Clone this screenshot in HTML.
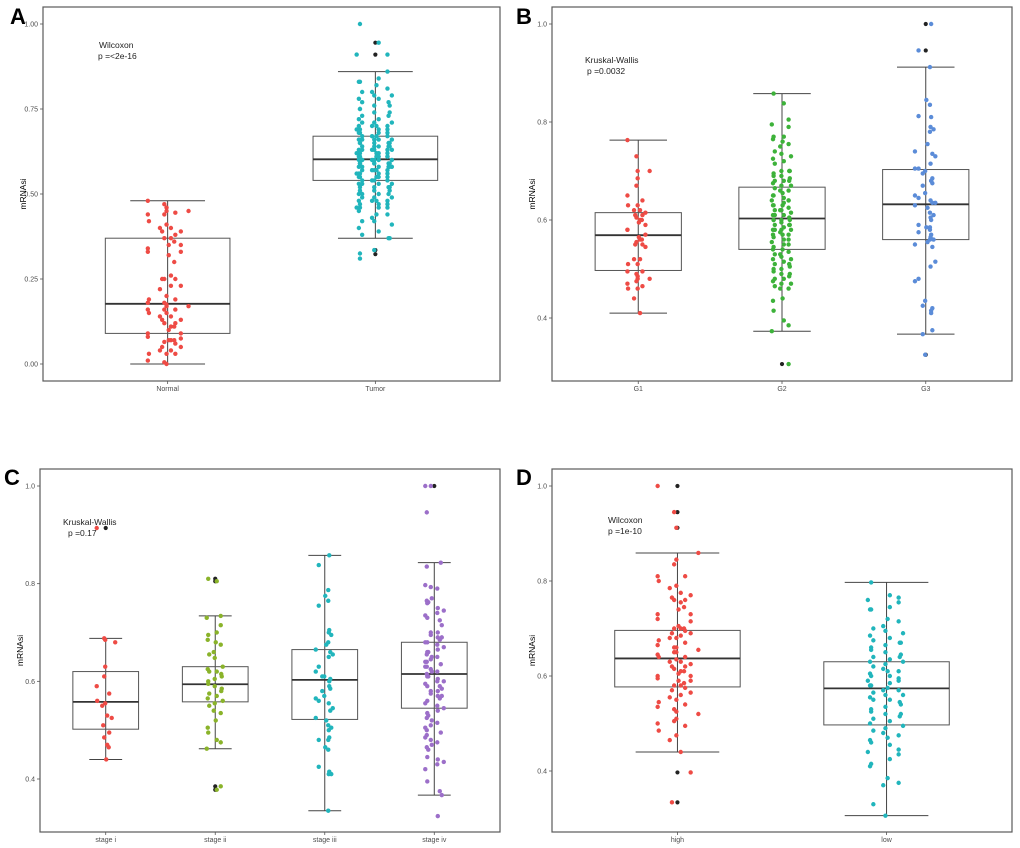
<!DOCTYPE html>
<html><head><meta charset="utf-8"><style>
html,body{margin:0;padding:0;background:#fff;}
svg{display:block;font-family:"Liberation Sans",sans-serif;}
</style></head><body>
<svg id="fig" width="1020" height="848" viewBox="0 0 1020 848"></svg>
<script>
// ---------- DATA ----------
const catsA = ["Normal","Tumor"];
const catsB = ["G1","G2","G3"];
const catsC = ["stage i","stage ii","stage iii","stage iv"];
const catsD = ["high","low"];
const ticksA = [0,0.25,0.5,0.75,1.0];
const tickLabelsA = ["0.00","0.25","0.50","0.75","1.00"];
const ticksB = [0.4,0.6,0.8,1.0];
const tickLabelsB = ["0.4","0.6","0.8","1.0"];
// stats: [lower whisker, q1, median, q3, upper whisker]
const statsA = [[0,0.09,0.177,0.37,0.48],[0.37,0.54,0.602,0.67,0.86]];
const statsB = [[0.41,0.497,0.569,0.615,0.763],[0.373,0.54,0.603,0.667,0.858],[0.367,0.56,0.632,0.703,0.912]];
const statsC = [[0.44,0.502,0.558,0.62,0.688],[0.462,0.558,0.594,0.63,0.734],[0.335,0.522,0.603,0.665,0.858],[0.367,0.545,0.615,0.68,0.843]];
const statsD = [[0.44,0.577,0.637,0.696,0.859],[0.306,0.497,0.574,0.63,0.797]];
const outA = [[],[0.945,0.91,0.335,0.323]];
const outB = [[],[0.306],[1.0,0.946,0.325]];
const outC = [[0.914],[0.81,0.805,0.385,0.378],[],[1.0]];
const outD = [[1.0,0.945,0.912,0.397,0.334],[]];
const jitterPattern = [-0.9,0.3,-0.4,0.8,0.1,-0.7,0.6,-0.2,0.95,-0.55,0.45,-0.05,0.7,-0.85,0.2,-0.35,0.55,-0.65,0.05,0.85,-0.15,0.35,-0.95,0.65,-0.45,0.15,-0.75,0.9,-0.25,0.5,-0.6,0.4,-0.1,0.75,-0.3];
const valsNormal = [0.48,0.47,0.46,0.45,0.45,0.44,0.44,0.445,0.42,0.41,0.40,0.40,0.39,0.39,0.38,0.37,0.37,0.36,0.35,0.35,0.34,0.33,0.33,0.32,0.30,0.26,0.25,0.25,0.25,0.23,0.23,0.22,0.20,0.19,0.19,0.18,0.18,0.175,0.17,0.17,0.16,0.16,0.16,0.15,0.15,0.14,0.14,0.13,0.13,0.12,0.12,0.11,0.11,0.10,0.09,0.09,0.08,0.075,0.07,0.07,0.07,0.065,0.06,0.05,0.05,0.04,0.04,0.03,0.03,0.03,0.01,0.005,0.0];
const valsTumor = [1.0,0.945,0.91,0.91,0.86,0.84,0.83,0.83,0.82,0.81,0.80,0.80,0.79,0.79,0.78,0.78,0.77,0.77,0.76,0.76,0.75,0.75,0.74,0.74,0.73,0.73,0.72,0.72,0.71,0.71,0.71,0.70,0.70,0.70,0.70,0.69,0.69,0.69,0.69,0.68,0.68,0.68,0.68,0.67,0.67,0.67,0.67,0.66,0.66,0.66,0.66,0.66,0.65,0.65,0.65,0.65,0.65,0.64,0.64,0.64,0.64,0.64,0.63,0.63,0.63,0.63,0.63,0.63,0.62,0.62,0.62,0.62,0.62,0.62,0.61,0.61,0.61,0.61,0.61,0.61,0.60,0.60,0.60,0.60,0.60,0.60,0.60,0.59,0.59,0.59,0.59,0.59,0.59,0.58,0.58,0.58,0.58,0.58,0.58,0.57,0.57,0.57,0.57,0.57,0.56,0.56,0.56,0.56,0.56,0.55,0.55,0.55,0.55,0.55,0.54,0.54,0.54,0.54,0.53,0.53,0.53,0.53,0.52,0.52,0.52,0.52,0.51,0.51,0.51,0.50,0.50,0.50,0.50,0.49,0.49,0.49,0.48,0.48,0.48,0.48,0.47,0.47,0.47,0.46,0.46,0.46,0.46,0.45,0.44,0.44,0.43,0.42,0.42,0.41,0.40,0.39,0.38,0.37,0.37,0.335,0.325,0.31];
const valsG1 = [0.763,0.73,0.70,0.70,0.685,0.67,0.65,0.64,0.63,0.63,0.62,0.62,0.615,0.61,0.61,0.605,0.60,0.60,0.595,0.59,0.58,0.58,0.57,0.565,0.56,0.56,0.555,0.55,0.55,0.545,0.52,0.52,0.51,0.51,0.495,0.495,0.49,0.485,0.48,0.48,0.475,0.47,0.465,0.46,0.46,0.44,0.41];
const valsG2 = [0.858,0.838,0.805,0.795,0.79,0.77,0.77,0.765,0.76,0.755,0.75,0.74,0.735,0.73,0.725,0.72,0.715,0.70,0.70,0.70,0.695,0.69,0.69,0.685,0.68,0.68,0.68,0.675,0.67,0.67,0.665,0.66,0.66,0.655,0.65,0.65,0.645,0.64,0.64,0.64,0.635,0.63,0.63,0.63,0.625,0.62,0.62,0.62,0.615,0.61,0.61,0.61,0.605,0.60,0.60,0.60,0.60,0.595,0.59,0.59,0.59,0.585,0.58,0.58,0.58,0.58,0.575,0.57,0.57,0.57,0.565,0.56,0.56,0.555,0.55,0.55,0.545,0.54,0.54,0.535,0.53,0.53,0.525,0.52,0.52,0.515,0.51,0.51,0.505,0.50,0.50,0.495,0.49,0.49,0.485,0.48,0.48,0.475,0.47,0.47,0.465,0.46,0.46,0.44,0.435,0.415,0.395,0.385,0.373,0.306];
const valsG3 = [1.0,0.946,0.912,0.845,0.835,0.812,0.81,0.79,0.785,0.78,0.755,0.74,0.735,0.73,0.715,0.705,0.705,0.70,0.695,0.685,0.68,0.68,0.675,0.67,0.655,0.65,0.645,0.64,0.635,0.635,0.63,0.625,0.615,0.61,0.605,0.60,0.59,0.585,0.585,0.58,0.575,0.57,0.565,0.56,0.56,0.555,0.55,0.545,0.515,0.505,0.48,0.475,0.435,0.425,0.42,0.415,0.41,0.375,0.367,0.325];
const valsSi = [0.914,0.688,0.685,0.68,0.63,0.61,0.59,0.575,0.56,0.555,0.55,0.53,0.525,0.51,0.495,0.485,0.47,0.465,0.44];
const valsSii = [0.81,0.805,0.734,0.73,0.715,0.70,0.695,0.685,0.68,0.675,0.66,0.655,0.648,0.63,0.625,0.62,0.62,0.615,0.61,0.605,0.60,0.595,0.59,0.585,0.58,0.575,0.57,0.565,0.56,0.555,0.55,0.54,0.535,0.52,0.505,0.495,0.48,0.475,0.462,0.385,0.378];
const valsSiii = [0.858,0.838,0.787,0.775,0.765,0.755,0.705,0.70,0.695,0.68,0.675,0.665,0.66,0.655,0.65,0.63,0.62,0.61,0.61,0.605,0.60,0.59,0.585,0.58,0.57,0.565,0.56,0.555,0.545,0.54,0.525,0.52,0.51,0.505,0.50,0.485,0.48,0.48,0.465,0.46,0.425,0.415,0.41,0.41,0.335];
const valsSiv = [1.0,1.0,0.946,0.843,0.835,0.797,0.793,0.79,0.77,0.765,0.762,0.76,0.75,0.745,0.74,0.735,0.73,0.725,0.715,0.70,0.70,0.695,0.69,0.69,0.685,0.68,0.68,0.675,0.67,0.665,0.66,0.66,0.655,0.65,0.65,0.645,0.64,0.64,0.635,0.63,0.63,0.625,0.62,0.62,0.615,0.61,0.61,0.605,0.60,0.60,0.595,0.59,0.59,0.585,0.58,0.58,0.575,0.57,0.57,0.565,0.56,0.555,0.55,0.545,0.54,0.535,0.53,0.525,0.52,0.515,0.51,0.505,0.50,0.495,0.49,0.485,0.48,0.475,0.47,0.465,0.46,0.445,0.44,0.435,0.43,0.42,0.395,0.375,0.367,0.324];
const valsHigh = [1.0,0.945,0.912,0.859,0.845,0.835,0.81,0.81,0.80,0.79,0.785,0.775,0.77,0.765,0.76,0.76,0.755,0.745,0.74,0.73,0.73,0.72,0.715,0.705,0.70,0.70,0.70,0.695,0.69,0.69,0.685,0.68,0.68,0.675,0.67,0.665,0.66,0.66,0.655,0.65,0.65,0.645,0.64,0.64,0.635,0.63,0.63,0.625,0.62,0.62,0.615,0.61,0.61,0.605,0.60,0.60,0.595,0.59,0.59,0.585,0.58,0.58,0.575,0.57,0.565,0.56,0.555,0.55,0.545,0.54,0.535,0.53,0.525,0.52,0.51,0.505,0.50,0.495,0.485,0.475,0.465,0.44,0.397,0.334];
const valsLow = [0.797,0.77,0.765,0.76,0.755,0.745,0.74,0.74,0.72,0.715,0.705,0.70,0.695,0.69,0.685,0.68,0.675,0.67,0.67,0.665,0.66,0.655,0.65,0.645,0.64,0.64,0.635,0.63,0.63,0.625,0.62,0.615,0.61,0.61,0.605,0.60,0.60,0.595,0.59,0.59,0.585,0.58,0.58,0.575,0.57,0.57,0.565,0.56,0.56,0.555,0.55,0.55,0.545,0.54,0.535,0.53,0.525,0.52,0.52,0.515,0.51,0.505,0.50,0.495,0.49,0.485,0.48,0.475,0.47,0.465,0.46,0.455,0.445,0.44,0.435,0.425,0.415,0.41,0.385,0.375,0.37,0.33,0.306];

const NS = "http://www.w3.org/2000/svg";
const svg = document.getElementById('fig');
function mk(tag, attrs, parent){ const e=document.createElementNS(NS,tag); for(const k in attrs) e.setAttribute(k,attrs[k]); parent.appendChild(e); return e; }

function panel(cfg){
  const g = mk('g',{},svg);
  
  
  const L=cfg.left,R=cfg.right,T=cfg.top,B=cfg.bottom;
  const y = v => cfg.y1 + (cfg.v1 - v)*(cfg.y0-cfg.y1)/(cfg.v1-cfg.v0);
  const n = cfg.cats.length, step=(R-L)/(n+0.2);
  const x = i => L + step*(0.6+i);
  const frame = mk('rect',{x:L,y:T,width:R-L,height:B-T,fill:'none',stroke:'#5a5a5a','stroke-width':1.2},g);
   
  const lt = mk('text',{x:cfg.lx,y:cfg.ly,'font-size':22,'font-weight':'bold',fill:'#000'},g);
  lt.textContent=cfg.letter;
   
  cfg.ticks.forEach((t,i)=>{
    mk('line',{x1:L-3,x2:L,y1:y(t),y2:y(t),stroke:'#555','stroke-width':0.8},g);
    const tx=mk('text',{x:L-5,y:y(t)+2.5,'font-size':7,'text-anchor':'end',fill:'#4d4d4d'},g);
    tx.textContent=cfg.tickLabels[i];
     
  });
  const yt=mk('text',{x:0,y:0,'font-size':8.5,'text-anchor':'middle',fill:'#000',transform:`translate(${L-17},${(T+B)/2}) rotate(-90)`},g);
  yt.textContent='mRNAsi';
   
  cfg.cats.forEach((c,i)=>{
    const cx=x(i), s=cfg.stats[i];
    mk('line',{x1:cx,x2:cx,y1:B,y2:B+3,stroke:'#555','stroke-width':0.8},g);
    const ct=mk('text',{x:cx,y:B+10,'font-size':7,'text-anchor':'middle',fill:'#4d4d4d'},g);
    ct.textContent=c;
     
    const bg=mk('g',{},g);
    
    
    const cw=step*cfg.cap/2, bw=step*0.3;
    mk('line',{x1:cx,x2:cx,y1:y(s[0]),y2:y(s[4]),stroke:'#444','stroke-width':1},bg);
    mk('line',{x1:cx-cw,x2:cx+cw,y1:y(s[0]),y2:y(s[0]),stroke:'#444','stroke-width':1},bg);
    mk('line',{x1:cx-cw,x2:cx+cw,y1:y(s[4]),y2:y(s[4]),stroke:'#444','stroke-width':1},bg);
    mk('rect',{x:cx-bw,y:y(s[3]),width:2*bw,height:y(s[1])-y(s[3]),fill:'none',stroke:'#555','stroke-width':1},bg);
    mk('line',{x1:cx-bw,x2:cx+bw,y1:y(s[2]),y2:y(s[2]),stroke:'#333','stroke-width':1.8},bg);
    cfg.out[i].forEach(v=>{
      const o=mk('circle',{cx:cx,cy:y(v),r:2.1,fill:'#222'},bg);
       
    });
  });
  cfg.cats.forEach((c,i)=>{
    const cx=x(i);
    cfg.vals[i].forEach((v,k)=>{
      const j=jitterPattern[(k*k*3+k*17+i*5)%jitterPattern.length];
      const p=mk('circle',{cx:cx+j*cfg.jit,cy:y(v),r:2.2,fill:cfg.colors[i]},g);
       
    });
  });
  cfg.note.forEach((t,i)=>{
    const a=mk('text',{x:cfg.nx[i],y:cfg.ny+i*11,'font-size':8.5,fill:'#222'},g);
    a.textContent=t;
     
  });
}

panel({letter:'A',lx:10,ly:24,left:43,right:500,top:7,bottom:381,v0:0,y0:364,v1:1,y1:24,
  cats:catsA,stats:statsA,out:outA,vals:[valsNormal,valsTumor],colors:['#EE4B45','#21B5BC'],
  ticks:ticksA,tickLabels:tickLabelsA,cap:0.36,jit:22,note:['Wilcoxon','p =<2e-16'],nx:[99,98],ny:48});
panel({letter:'B',lx:516,ly:24,left:552,right:1012,top:7,bottom:381,v0:0.4,y0:318,v1:1,y1:24,
  cats:catsB,stats:statsB,out:outB,vals:[valsG1,valsG2,valsG3],colors:['#EE4B45','#3DB23A','#5B8CD8'],
  ticks:ticksB,tickLabels:tickLabelsB,cap:0.4,jit:12,note:['Kruskal-Wallis',' p =0.0032'],nx:[585,587],ny:63});
panel({letter:'C',lx:4,ly:485,left:40,right:500,top:469,bottom:832,v0:0.4,y0:779,v1:1,y1:486,
  cats:catsC,stats:statsC,out:outC,vals:[valsSi,valsSii,valsSiii,valsSiv],colors:['#EE4B45','#8AB32A','#21B5BC','#9C6FC9'],
  ticks:ticksB,tickLabels:tickLabelsB,cap:0.3,jit:10,note:['Kruskal-Wallis','p =0.17'],nx:[63,68],ny:525});
panel({letter:'D',lx:516,ly:485,left:552,right:1012,top:469,bottom:832,v0:0.4,y0:771,v1:1,y1:486,
  cats:catsD,stats:statsD,out:outD,vals:[valsHigh,valsLow],colors:['#EE4B45','#21B5BC'],
  ticks:ticksB,tickLabels:tickLabelsB,cap:0.4,jit:22,note:['Wilcoxon','p =1e-10'],nx:[608,608],ny:523});
</script>
</body></html>
